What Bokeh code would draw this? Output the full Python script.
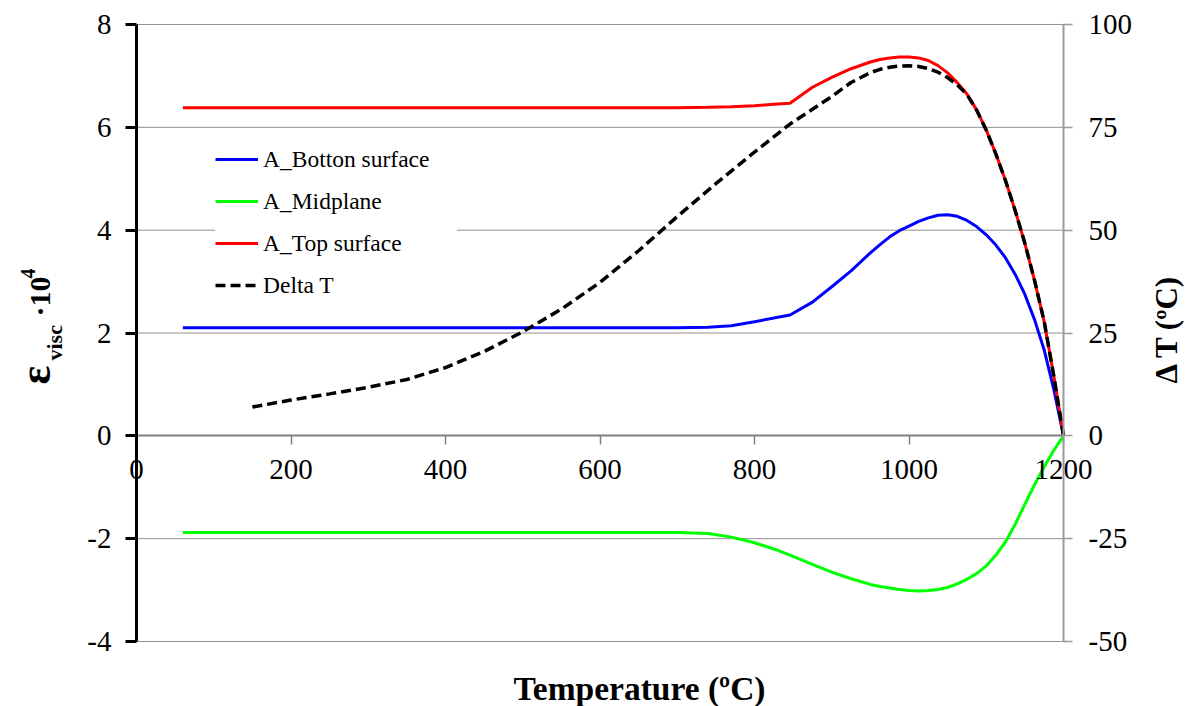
import math

from bokeh.plotting import figure
from bokeh.models import (Range1d, LinearAxis, FixedTicker, Label, Legend,
                          LegendItem)
from bokeh.embed import file_html
from bokeh.resources import INLINE

# Temperature (ºC) at which the viscous strains were sampled
temp = [60, 100, 200, 300, 400, 500, 600, 700, 740, 770, 800, 825, 846,
        875, 900, 925, 950, 962.5, 975, 987.5, 1000, 1012.5, 1025, 1037.5,
        1050, 1062.5, 1075, 1087.5, 1100, 1112.5, 1125, 1137.5, 1150,
        1162.5, 1175, 1187.5, 1200]

# Viscous strain x 10^4
bottom_surface = [2.10, 2.10, 2.10, 2.10, 2.10, 2.10, 2.10, 2.10, 2.11, 2.14,
                  2.22, 2.29, 2.35, 2.60, 2.90, 3.21, 3.56, 3.72, 3.87, 3.99,
                  4.08, 4.17, 4.24, 4.29, 4.30, 4.27, 4.19, 4.07, 3.91, 3.71,
                  3.46, 3.14, 2.75, 2.26, 1.67, 0.90, 0.0]
midplane = [-1.88, -1.88, -1.88, -1.88, -1.88, -1.88, -1.88, -1.88, -1.90,
            -1.97, -2.08, -2.20, -2.32, -2.50, -2.65, -2.78, -2.89, -2.93,
            -2.96, -2.99, -3.01, -3.02, -3.01, -2.99, -2.95, -2.88, -2.79,
            -2.68, -2.53, -2.32, -2.06, -1.72, -1.33, -0.95, -0.60, -0.28,
            0.0]
top_surface = [6.38, 6.38, 6.38, 6.38, 6.38, 6.38, 6.38, 6.38, 6.39, 6.40,
               6.42, 6.45, 6.47, 6.78, 6.97, 7.14, 7.27, 7.32, 7.35, 7.37,
               7.37, 7.35, 7.30, 7.20, 7.06, 6.87, 6.65, 6.34, 5.95, 5.48,
               4.96, 4.38, 3.74, 3.02, 2.22, 1.16, 0.0]

# Temperature difference through the thickness
dt_temp = [150, 200, 250, 300, 350, 400, 450, 500, 550, 600, 650, 700, 750,
           800, 846, 875, 900, 925, 950, 962.5, 975, 987.5, 1000, 1012.5,
           1025, 1037.5, 1050, 1062.5, 1075, 1087.5, 1100, 1112.5, 1125,
           1137.5, 1150, 1162.5, 1175, 1187.5, 1200]
delta_t = [7.0, 8.7, 10.2, 11.8, 13.7, 16.6, 20.5, 25.3, 30.8, 37.3, 45.0,
           53.3, 61.3, 69.0, 75.8, 79.4, 82.5, 85.9, 88.3, 89.1, 89.6, 89.9,
           90.0, 89.8, 89.3, 88.4, 87.1, 85.3, 83.0, 79.2, 74.3, 68.5, 62.0,
           54.7, 46.8, 37.8, 27.8, 14.5, 0.0]

x_ticks = [0, 200, 400, 600, 800, 1000, 1200]
strain_ticks = [-4, -2, 0, 2, 4, 6, 8]
dt_ticks = [-50, -25, 0, 25, 50, 75, 100]

FONT = "Liberation Serif"
TICK_SIZE = "29px"

# Page geometry: the frame fills the page and the axes sit at fixed
# data locations, so titles placed around the plot area stay visible.
W, H = 1185, 706
AREA_L, AREA_R, AREA_T, AREA_B = 136, 1063, 24, 641
x_lo, x_hi = x_ticks[0], x_ticks[-1]
y_lo, y_hi = strain_ticks[0], strain_ticks[-1]
d_lo, d_hi = dt_ticks[0], dt_ticks[-1]
x_per_px = (x_hi - x_lo) / (AREA_R - AREA_L)
y_per_px = (y_hi - y_lo) / (AREA_B - AREA_T)
d_per_px = (d_hi - d_lo) / (AREA_B - AREA_T)
x_range = Range1d(x_lo - AREA_L * x_per_px, x_hi + (W - AREA_R) * x_per_px)
y_range = Range1d(y_lo - (H - AREA_B) * y_per_px, y_hi + AREA_T * y_per_px)
dt_range = Range1d(d_lo - (H - AREA_B) * d_per_px, d_hi + AREA_T * d_per_px)

p = figure(width=W, height=H, output_backend="svg", toolbar_location=None,
           x_range=x_range, y_range=y_range, min_border=0,
           outline_line_color=None, background_fill_color="white",
           border_fill_color="white")
p.extra_y_ranges = {"dt": dt_range}
p.xgrid.visible = False
p.ygrid.visible = False


def plain_labels(ticks):
    return {t: str(t) for t in ticks}


# x axis drawn through zero strain
xax = p.xaxis[0]
xax.fixed_location = 0
xax.bounds = (x_lo, x_hi)
xax.ticker = FixedTicker(ticks=x_ticks)
xax.axis_line_color = "#808080"
xax.axis_line_width = 2
xax.major_tick_line_color = "#808080"
xax.major_tick_line_width = 1.5
xax.major_tick_in = 0
xax.major_tick_out = 9
xax.minor_tick_line_color = None
xax.major_label_standoff = 15
xax.major_label_text_font = FONT
xax.major_label_text_font_size = TICK_SIZE
xax.major_label_text_color = "black"

yax = p.yaxis[0]
yax.fixed_location = x_lo
yax.bounds = (y_lo, y_hi)
yax.ticker = FixedTicker(ticks=strain_ticks)
yax.major_label_overrides = plain_labels(strain_ticks)
yax.axis_line_color = "black"
yax.axis_line_width = 3
yax.major_tick_line_color = "black"
yax.major_tick_line_width = 3
yax.major_tick_in = 0
yax.major_tick_out = 11
yax.minor_tick_line_color = None
yax.major_label_standoff = 14
yax.major_label_text_font = FONT
yax.major_label_text_font_size = TICK_SIZE
yax.major_label_text_color = "black"

rax = LinearAxis(y_range_name="dt", ticker=FixedTicker(ticks=dt_ticks),
                 fixed_location=x_hi, bounds=(d_lo, d_hi))
rax.major_label_overrides = plain_labels(dt_ticks)
rax.axis_line_color = "#9a9a9a"
rax.axis_line_width = 2
rax.major_tick_line_color = "#9a9a9a"
rax.major_tick_line_width = 1.5
rax.major_tick_in = 0
rax.major_tick_out = 9
rax.minor_tick_line_color = None
rax.major_label_standoff = 16
rax.major_label_text_font = FONT
rax.major_label_text_font_size = TICK_SIZE
rax.major_label_text_color = "black"
p.add_layout(rax, "right")

# dotted horizontal gridlines at the strain ticks
grid_levels = [t for t in strain_ticks if t != 0]
p.segment(x0=[x_lo] * len(grid_levels), x1=[x_hi] * len(grid_levels),
          y0=grid_levels, y1=grid_levels, line_color="#222222",
          line_width=1, line_dash="1 1")

rb = p.line(temp, bottom_surface, line_color="#0000ff", line_width=3)
rm = p.line(temp, midplane, line_color="#00ff00", line_width=3)
rt = p.line(temp, top_surface, line_color="#ff0000", line_width=3)
rd = p.line(dt_temp, delta_t, y_range_name="dt", line_color="black",
            line_width=3.5, line_dash="10 5")

legend = Legend(items=[LegendItem(label="A_Botton surface", renderers=[rb]),
                       LegendItem(label="A_Midplane", renderers=[rm]),
                       LegendItem(label="A_Top surface", renderers=[rt]),
                       LegendItem(label="Delta T", renderers=[rd])],
                location=(215, 406), padding=8, spacing=12,
                glyph_width=43, glyph_height=30, label_height=30,
                label_width=194, label_standoff=5,
                label_text_font=FONT, label_text_font_size="23.5px",
                label_text_color="black", border_line_color=None,
                background_fill_color="white", background_fill_alpha=1.0)
p.add_layout(legend, "center")

# axis titles
title_style = dict(x_units="screen", y_units="screen", text_font=FONT,
                   text_font_style="bold", text_color="black",
                   text_baseline="alphabetic")
p.add_layout(Label(x=639, y=18, text="Temperature (ºC)", text_align="center",
                   text_font_size="33.5px", **title_style))
p.add_layout(Label(x=1166, y=323, text="Δ T (ºC)", angle=math.pi / 2,
                   text_align="left", text_font_size="31px", **title_style))
p.add_layout(Label(x=35, y=322, text="ε", angle=math.pi / 2,
                   text_align="left", text_font_size="44px", **title_style))
p.add_layout(Label(x=54, y=346, text="visc", angle=math.pi / 2,
                   text_align="left", text_font_size="22px", **title_style))
p.add_layout(Label(x=39, y=390, text="·10", angle=math.pi / 2,
                   text_align="left", text_font_size="30px", **title_style))
p.add_layout(Label(x=27, y=428, text="4", angle=math.pi / 2,
                   text_align="left", text_font_size="20px", **title_style))

open("out.html", "w").write(file_html(p, INLINE))
